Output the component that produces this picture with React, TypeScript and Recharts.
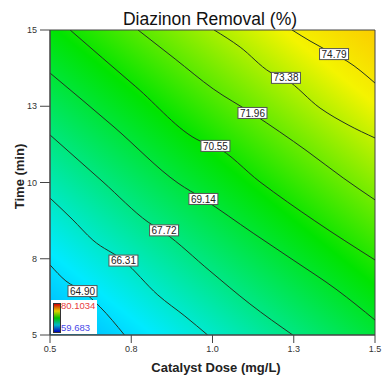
import React from "react";
import { ComposedChart, Line, Scatter, XAxis, YAxis, ReferenceArea } from "recharts";

const font = "'Liberation Sans', Arial, sans-serif";

const doseTicks = [0.5, 0.75, 1.0, 1.25, 1.5];
const timeTicks = [5, 7.5, 10, 12.5, 15];

// contour traces as [catalyst dose, time]
const contour6490 = [[0.5, 7.3], [0.549, 6.77], [0.6, 6.44], [0.654, 5.92], [0.729, 5.0]];
const contour6631 = [[0.5, 9.49], [0.568, 8.8], [0.632, 8.11], [0.726, 7.44], [0.832, 6.31], [0.915, 5.62], [0.985, 5.0]];
const contour6772 = [[0.5, 11.56], [0.663, 10.02], [0.802, 8.7], [0.851, 8.36], [0.992, 7.1], [1.115, 6.02], [1.247, 5.0]];
const contour6914 = [[0.5, 13.59], [0.697, 11.82], [0.894, 9.98], [0.972, 9.46], [1.125, 8.34], [1.248, 7.46], [1.383, 6.48], [1.5, 5.49]];
const contour7055 = [[0.562, 15.0], [0.762, 13.16], [0.962, 11.36], [1.009, 11.18], [1.146, 10.02], [1.315, 8.74], [1.5, 7.46]];
const contour7196 = [[0.771, 15.0], [0.885, 14.05], [1.002, 13.07], [1.123, 12.26], [1.291, 11.03], [1.402, 10.15], [1.5, 9.43]];
const contour7338 = [[1.005, 15.0], [1.085, 14.44], [1.177, 13.62], [1.226, 13.38], [1.331, 12.44], [1.417, 11.89], [1.5, 11.46]];
const contour7479 = [[1.245, 15.0], [1.3, 14.64], [1.374, 14.21], [1.414, 13.98], [1.5, 13.26]];

const contourTraces = [contour6490, contour6631, contour6772, contour6914, contour7055, contour7196, contour7338, contour7479];

// level tags sitting on each contour
const labelText = ["64.90", "66.31", "67.72", "69.14", "70.55", "71.96", "73.38", "74.79"];
const labelDose = [0.6, 0.726, 0.851, 0.972, 1.009, 1.123, 1.226, 1.374];
const labelTime = [6.44, 7.44, 8.43, 9.46, 11.2, 12.28, 13.43, 14.21];

const colorMax = 80.1034;
const colorMin = 59.683;

const toXY = (pts: number[][]) => pts.map(([x, y]) => ({ x, y }));
const labelPoints = labelText.map((label, i) => ({ x: labelDose[i], y: labelTime[i], label }));

function ContourTag(props: any) {
  const { cx, cy, payload } = props;
  if (cx == null || cy == null) return null;
  return (
    <g>
      <rect x={cx - 14.5} y={cy - 5.5} width={29} height={11} fill="#fff" stroke="#555" strokeWidth={1} />
      <text x={cx} y={cy + 3.6} textAnchor="middle" fontSize={10} fill="#222" fontFamily={font}>
        {payload.label}
      </text>
    </g>
  );
}

export default function App() {
  return (
    <div style={{ position: "fixed", left: 0, top: 0, width: 384, height: 379, background: "#fff", fontFamily: font }}>
      <ComposedChart width={384} height={379} margin={{ top: 30, right: 9, bottom: 8, left: 10 }}>
        <defs>
          {/* response colour ramp, laid across the surface perpendicular to the contours */}
          <linearGradient id="surface" x1={-0.22} y1={1.345} x2={1.249} y2={-0.379}>
            <stop offset="0%" stopColor="#0030ff" />
            <stop offset="27%" stopColor="#00eaff" />
            <stop offset="52%" stopColor="#00e400" />
            <stop offset="72%" stopColor="#f4f400" />
            <stop offset="86%" stopColor="#ffb000" />
            <stop offset="100%" stopColor="#ff2000" />
          </linearGradient>
        </defs>
        <XAxis
          type="number"
          dataKey="x"
          domain={[0.5, 1.5]}
          ticks={doseTicks}
          tickFormatter={(v: number) => v.toFixed(1)}
          allowDataOverflow
          height={36}
          tickSize={8}
          tickMargin={3}
          stroke="#444"
          tick={{ fill: "#333", fontSize: 9, fontFamily: font }}
        />
        <YAxis
          type="number"
          dataKey="y"
          domain={[5, 15]}
          ticks={timeTicks}
          tickFormatter={(v: number) => v.toFixed(0)}
          allowDataOverflow
          width={40}
          tickSize={10}
          tickMargin={3}
          stroke="#444"
          tick={{ fill: "#333", fontSize: 9, fontFamily: font }}
        />
        <ReferenceArea x1={0.5} x2={1.5} y1={5} y2={15} fill="url(#surface)" fillOpacity={1} stroke="#444" strokeWidth={1} />
        {contourTraces.map((trace, i) => (
          <Line
            key={labelText[i]}
            data={toXY(trace)}
            dataKey="y"
            type="monotone"
            stroke="#223322"
            strokeWidth={1}
            dot={false}
            activeDot={false}
            isAnimationActive={false}
          />
        ))}
        <Scatter data={labelPoints} dataKey="y" shape={ContourTag} isAnimationActive={false} />
      </ComposedChart>

      <div style={{ position: "absolute", left: 60, top: 11, width: 300, textAlign: "center", fontSize: 17.5, lineHeight: "17.5px", color: "#111" }}>
        Diazinon Removal (%)
      </div>
      <div style={{ position: "absolute", left: 116, top: 360.5, width: 200, textAlign: "center", fontSize: 13, lineHeight: "13px", fontWeight: "bold", color: "#222" }}>
        Catalyst Dose (mg/L)
      </div>
      <div style={{ position: "absolute", left: -31, top: 169.5, width: 100, textAlign: "center", fontSize: 13, lineHeight: "13px", fontWeight: "bold", color: "#222", transform: "rotate(-90deg)" }}>
        Time (min)
      </div>

      <div style={{ position: "absolute", left: 51, top: 300, width: 46, height: 34, background: "#fff" }}>
        <div style={{ position: "absolute", left: 2, top: 3, width: 6, height: 28, border: "1px solid #333", background: "linear-gradient(to bottom, #d00000, #e0d000 25%, #00c000 50%, #00b8c8 75%, #0000c0)" }} />
        <div style={{ position: "absolute", left: 10, top: 0.5, fontSize: 9.5, lineHeight: "10px", color: "#e84040" }}>{colorMax.toFixed(4)}</div>
        <div style={{ position: "absolute", left: 10, top: 23, fontSize: 9.5, lineHeight: "10px", color: "#4848e8" }}>{colorMin.toFixed(3)}</div>
      </div>
    </div>
  );
}
